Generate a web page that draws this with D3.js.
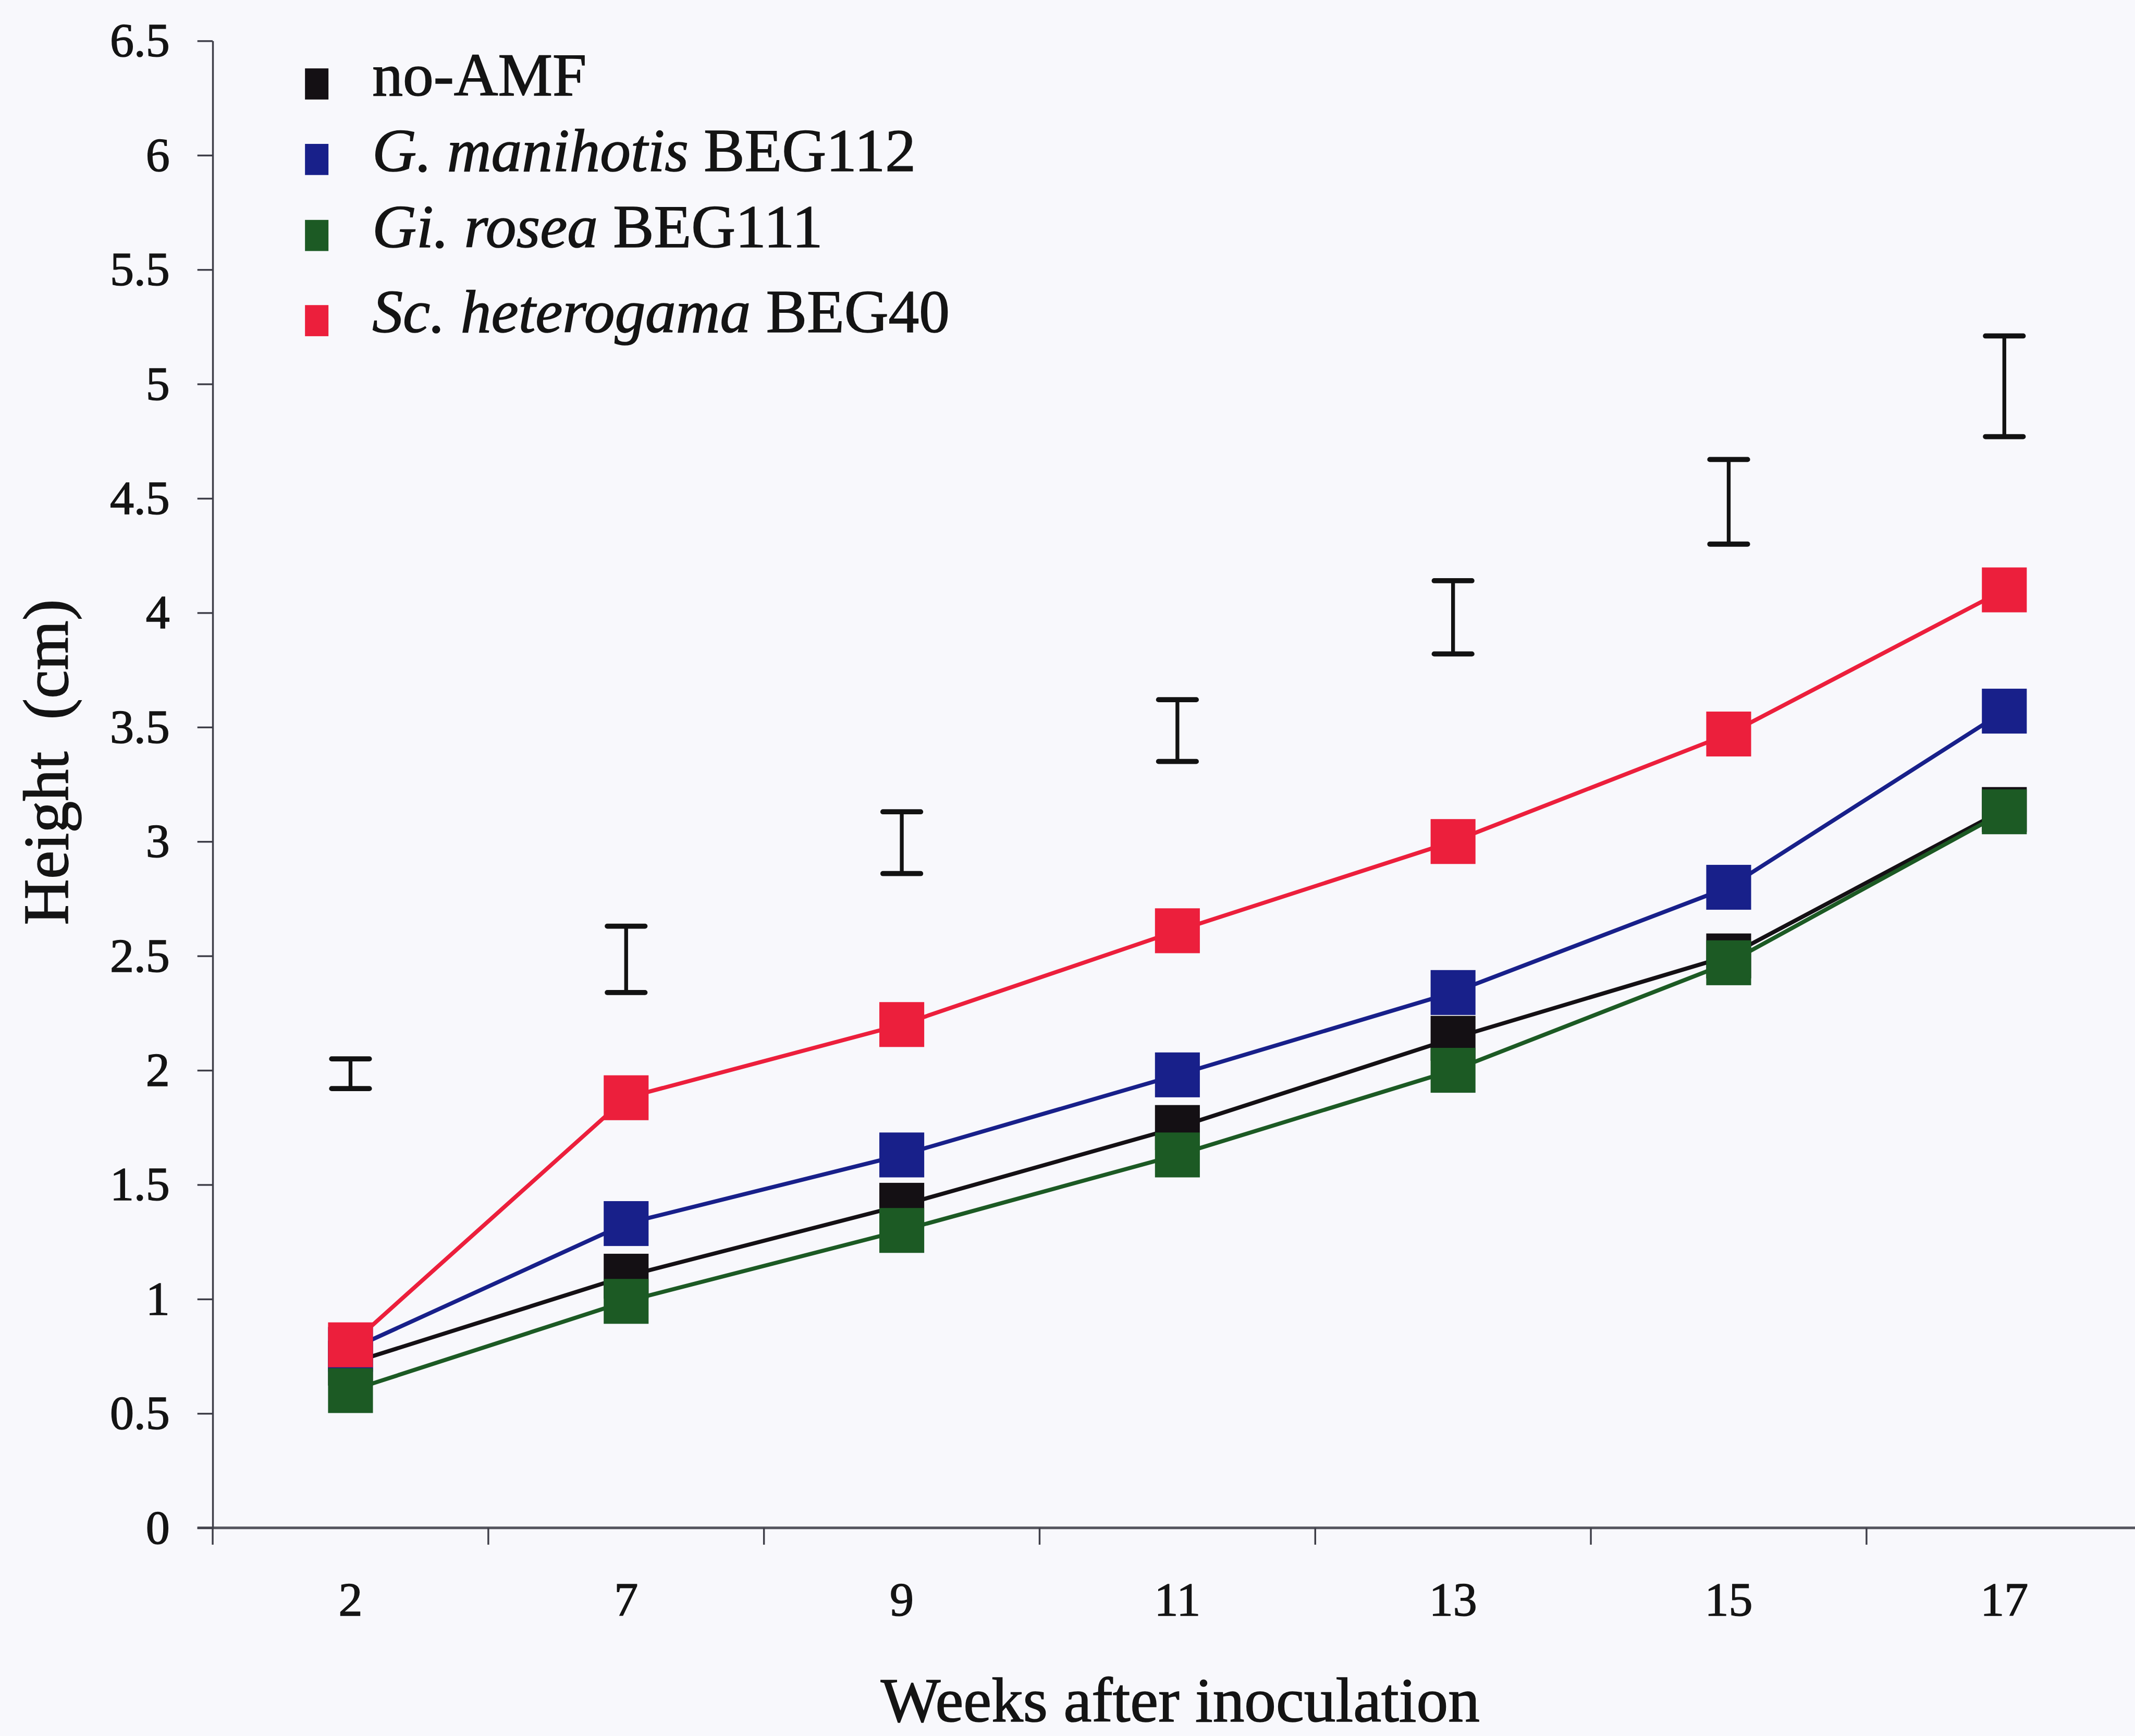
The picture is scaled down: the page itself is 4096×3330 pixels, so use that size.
<!DOCTYPE html>
<html>
<head>
    <meta charset="utf-8">
    <script src="https://d3js.org/d3.v7.min.js"></script>
    <style>
      body { margin: 0; background: #f8f8fc; }
      svg { display: block; }
      text { font-family: "Liberation Serif", "Times New Roman", serif; fill: #141414; stroke: #141414; stroke-width: 1.6px; }
      .y.axis path, .y.axis line { stroke: #3e3e48; stroke-width: 3.5; }
      .y.axis text { font-size: 94px; }
      .x.axis path, .x.axis line { stroke: none; }
      .x.axis text { font-size: 94px; }
    </style>
</head>
<body>
    <script>
        // weeks after inoculation
        var weeks = ["2", "7", "9", "11", "13", "15", "17"];

        // plant height (cm) per treatment
        var noAMF      = [0.72, 1.10, 1.41, 1.75, 2.14, 2.50, 3.14];
        var manihotis  = [0.78, 1.33, 1.63, 1.98, 2.34, 2.80, 3.57];
        var rosea      = [0.60, 0.99, 1.30, 1.63, 2.00, 2.47, 3.13];
        var heterogama = [0.80, 1.88, 2.20, 2.61, 3.00, 3.47, 4.10];

        // LSD bars, bottom and top
        var lsdLow  = [1.92, 2.34, 2.86, 3.35, 3.82, 4.30, 4.77];
        var lsdHigh = [2.05, 2.63, 3.13, 3.62, 4.14, 4.67, 5.21];

        var yTicks = [0, 0.5, 1, 1.5, 2, 2.5, 3, 3.5, 4, 4.5, 5, 5.5, 6, 6.5];

        var seriesNames = ["no-AMF", "G. manihotis", "Gi. rosea", "Sc. heterogama"];
        var seriesCodes = ["", " BEG112", " BEG111", " BEG40"];
        var seriesColors = ["#141014", "#18208a", "#1c5a24", "#ec1f3c"];
        var seriesValues = [noAMF, manihotis, rosea, heterogama];

        // layout is done in the reference's own pixels, the viewBox shrinks it
        var W = 4186, H = 3403;
        var plotLeft = 417, plotBottom = 2995, plotTop = 80, plotRight = 4200;

        var svg = d3.select("body").append("svg")
            .attr("width", 4096).attr("height", 3330)
            .attr("viewBox", "0 0 " + W + " " + H);

        var x = d3.scaleBand().domain(weeks).range([plotLeft, plotRight]).padding(0);
        var y = d3.scaleLinear().domain([0, 6.5]).range([plotBottom, plotTop]);

        // x axis line, with the boundary ticks between weeks
        svg.append("line")
            .attr("x1", plotLeft - 30).attr("x2", W)
            .attr("y1", plotBottom).attr("y2", plotBottom)
            .style("stroke", "#55555e").style("stroke-width", 5);

        svg.selectAll("line.xtick")
            .data(weeks).enter()
            .append("line")
            .attr("class", "xtick")
            .attr("x1", d => x(d)).attr("x2", d => x(d))
            .attr("y1", plotBottom).attr("y2", plotBottom + 33)
            .style("stroke", "#3e3e48").style("stroke-width", 3.5);

        svg.append("g")
            .attr("class", "x axis")
            .attr("transform", "translate(0," + plotBottom + ")")
            .call(d3.axisBottom(x).tickSize(0).tickPadding(105));

        svg.append("g")
            .attr("class", "y axis")
            .attr("transform", "translate(" + plotLeft + ",0)")
            .call(d3.axisLeft(y).tickValues(yTicks).tickFormat(d => d)
                .tickSize(30).tickSizeOuter(0).tickPadding(54));

        // axis titles
        svg.append("text")
            .attr("x", 2314).attr("y", 3374)
            .attr("text-anchor", "middle")
            .style("font-size", "124px")
            .text("Weeks after inoculation");

        svg.append("text")
            .attr("transform", "translate(133,1494) rotate(-90)")
            .attr("text-anchor", "middle")
            .style("font-size", "125px")
            .style("white-space", "pre")
            .text("Height  (cm)");

        // LSD bars
        var bars = svg.append("g").selectAll("g")
            .data(weeks).enter().append("g")
            .style("stroke", "#121212");

        bars.append("line")
            .attr("x1", d => x(d) + x.bandwidth() / 2).attr("x2", d => x(d) + x.bandwidth() / 2)
            .attr("y1", (d, i) => y(lsdHigh[i])).attr("y2", (d, i) => y(lsdLow[i]))
            .style("stroke-width", 7.5);

        bars.selectAll("line.cap")
            .data((d, i) => [[d, lsdHigh[i]], [d, lsdLow[i]]]).enter()
            .append("line")
            .attr("class", "cap")
            .attr("x1", d => x(d[0]) + x.bandwidth() / 2 - 37)
            .attr("x2", d => x(d[0]) + x.bandwidth() / 2 + 37)
            .attr("y1", d => y(d[1])).attr("y2", d => y(d[1]))
            .style("stroke-width", 10)
            .style("stroke-linecap", "round");

        // series: line first, then square markers
        var line = d3.line()
            .x((d, i) => x(weeks[i]) + x.bandwidth() / 2)
            .y(d => y(d));

        var msize = 88;

        seriesValues.forEach(function (vals, s) {
            svg.append("path")
                .attr("d", line(vals))
                .style("fill", "none")
                .style("stroke", seriesColors[s])
                .style("stroke-width", 8);

            svg.append("g").selectAll("rect")
                .data(vals).enter()
                .append("rect")
                .attr("x", (d, i) => x(weeks[i]) + x.bandwidth() / 2 - msize / 2)
                .attr("y", d => y(d) - msize / 2)
                .attr("width", msize).attr("height", msize)
                .style("fill", seriesColors[s]);
        });

        // legend
        var legendY = [187, 335, 484, 651];

        var legend = svg.append("g").selectAll("g")
            .data(seriesNames).enter()
            .append("g")
            .attr("transform", (d, i) => "translate(0," + legendY[i] + ")");

        legend.append("rect")
            .attr("x", 598).attr("y", -53)
            .attr("width", 46).attr("height", 61)
            .style("fill", (d, i) => seriesColors[i]);

        var ltext = legend.append("text")
            .attr("x", 730)
            .style("font-size", "120px");

        ltext.append("tspan")
            .style("font-style", (d, i) => i == 0 ? "normal" : "italic")
            .text(d => d);

        ltext.append("tspan")
            .style("white-space", "pre")
            .text((d, i) => seriesCodes[i]);
    </script>
</body>
</html>
